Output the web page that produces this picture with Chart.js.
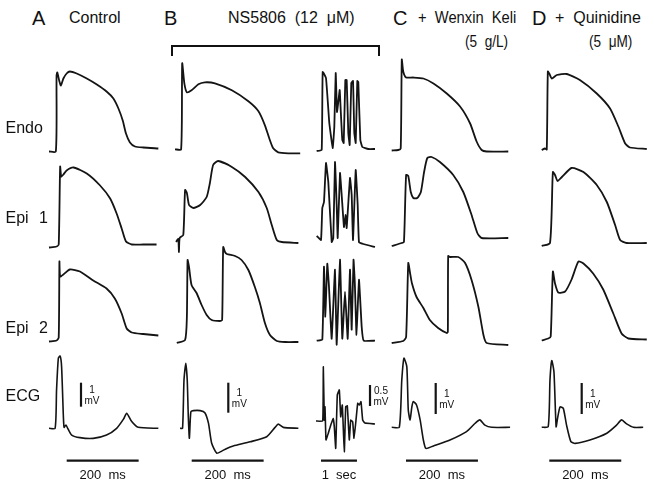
<!DOCTYPE html>
<html><head><meta charset="utf-8">
<script src="https://cdn.jsdelivr.net/npm/chart.js@4.4.1/dist/chart.umd.min.js"></script>
<style>
html,body{margin:0;padding:0;background:#fff;}
#fig{position:relative;width:654px;height:484px;overflow:hidden;background:#fff;font-family:"Liberation Sans",Arial,Helvetica,sans-serif;color:#111;}
.t{position:absolute;line-height:1;white-space:pre;transform-origin:0 0;}
.c{position:absolute;}
.br{position:absolute;border:2px solid #111;border-bottom:none;}
</style></head><body><div id="fig"></div>
<script>
// ---------- DATA (time in ms, membrane potential in mV above rest, ECG in mV) ----------
const columnLetters = ['A','B','C','D'];
const columnTitles = ['Control','NS5806  (12  \u03bcM)','+  Wenxin  Keli','+  Quinidine'];
const columnSubtitles = ['','','(5  g/L)','(5  \u03bcM)'];
const rowLabels = ['Endo','Epi 1','Epi 2','ECG'];
const scaleBarMs = [200,200,1000,200,200];
const scaleBarMV = [1,1,0.5,1,1];
const scaleBarTimeText = ['200  ms','200  ms','1  sec','200  ms','200  ms'];
const scaleBarMVText = ['1','1','0.5','1','1'];

// Column A (Control)
const endoA_t = [0,19,21,23,29,33,40,49,58,77,105,133,160,179,193,205,214,225,239,262,304];
const endoA_v = [0,0,76,79,70,66,73,78,80,78,73,67,60,53,43,31,18,9,5,4,3];
const epi1A_t = [0,21,27,31,34,40,49,68,105,142,170,188,202,214,230,262,299];
const epi1A_v = [0,1,3,81,71,73,77,80,74,62,49,34,19,6,3,3,3];
const epi2A_t = [0,21,27,29,31,40,58,86,123,160,183,202,216,230,262,304];
const epi2A_v = [0,1,4,80,65,67,72,70,61,53,43,28,13,9,7.5,6];
const ecgA_t = [0,17,21,26,31,35,40,42,47,52,63,86,123,160,188,207,216,230,248,304];
const ecgA_v = [0,0,1.6,2.92,3.01,2.57,0.48,0.04,0.14,0,-0.28,-0.39,-0.42,-0.28,0,0.38,0.63,0.28,0.04,0];

// Column B (NS5806, single beat)
const endoB_t = [0,17,20,26,33,46,65,83,111,158,204,232,250,262,273,287,315,348];
const endoB_v = [0,0,86,66,57,59,65,67,66,59,48,38,24,11,1,-3,-4,-4];
const epi1B_t = [3,9,11,13,23,28,33,39,51,70,88,97,106,120,158,195,232,255,269,283,297,343];
const epi1B_v = [-1,2,-11,3,6,51,48,36,33,36,44,58,76,80,74,64,49,33,16,1,-1,-2];
const epi2B_t = [5,28,33,35,39,46,60,74,88,102,125,131,134,139,144,167,185,204,222,236,250,264,283,306,343];
const epi2B_v = [-1,2,25,82,75,57,49,37,27,22,21,22,95,90,88,86,82,72,55,39,19,7,1,0,0];
const ecgB_t = [14,21,25,30,34,37,40,44,51,70,83,93,102,116,130,144,162,209,255,278,287,301,343];
const ecgB_v = [0,0,1.61,2.17,1.61,0.39,-0.33,0.55,0.59,0.59,0.52,0.17,-0.5,-0.83,-0.76,-0.67,-0.59,-0.45,-0.28,0.03,0.14,0.03,0];

// Column B (NS5806, 1 sec run)
const endoB2_t = [19,158,186,278,370,464,509,548,584,620,659,687,731,770,815,853,898,937,981,1029,1065,1104,1148,1176,1232,1287,1454,1640];
const endoB2_v = [0,1,79,73,28,3,24,78,39,49,61,41,11,8,71,71,18,6,68,70,18,8,70,69,11,4,2,2];
const epi1B2_t = [19,139,175,222,278,342,436,481,528,575,603,667,714,778,826,853,945,992,1029,1104,1159,1195,1315,1640];
const epi1B2_v = [4,0,32,38,77,58,-2,2,78,35,2,67,45,13,25,12,62,45,0,70,35,-2,-4,-7];
const epi2B2_t = [19,175,222,259,314,361,436,528,575,667,731,806,881,945,992,1043,1078,1126,1195,1270,1326,1640];
const epi2B2_v = [0,1,74,24,77,54,2,71,-4,81,2,49,2,71,11,81,59,6,61,14,0,0];
const ecgB2_t = [0,186,203,231,250,278,342,409,481,509,548,592,648,687,731,787,826,870,926,965,1020,1056,1112,1159,1204,1251,1298,1362,1640];
const ecgB2_v = [0,0,1.29,0.02,0.34,-0.45,-0.29,-0.1,0.06,-0.14,-0.65,0.62,0.74,0.1,0.38,-0.73,0.34,0.36,-0.45,0.02,-0.02,-0.41,0.02,0.42,0.38,0.46,0.02,-0.05,-0.07];

// Column C (+ Wenxin Keli)
const endoC_t = [2,20,27,30,34,42,62,90,118,155,192,220,238,252,266,326];
const endoC_v = [0,0.5,2,91,79,73,73,72,67,57,44,27,9,0.5,-1,-1];
const epi1C_t = [2,30,36,42,48,55,62,73,83,92,101,113,136,173,201,224,240,252,326];
const epi1C_v = [-1,2,3,70,69,53,47,47,53,73,87,88,83,70,53,30,12,7,7];
const epi2C_t = [2,34,42,48,53,58,71,90,108,131,155,158,159,164,187,206,224,243,257,266,326];
const epi2C_v = [-1,1,5,79,69,59,45,34,22,14,9,10,86,85,85,79,62,35,7,-1,-3];
const ecgC_t = [2,23,30,36,44,48,53,58,62,71,81,90,97,118,164,210,234,247,261,280,331];
const ecgC_v = [0,0,1.53,2.23,1.95,0.56,0.24,0.66,0.83,0.72,0.24,-0.41,-0.68,-0.6,-0.41,-0.14,0.13,0.24,0.07,0,0];

// Column D (+ Quinidine)
const endoD_t = [2,11,16,19,23,30,44,71,108,155,192,215,234,247,294];
const endoD_v = [-0.5,1,0,78,76,71,74.5,75.5,69.5,56,41,23,6,2,0.5];
const epi1D_t = [2,25,33,39,46,58,85,118,155,183,206,220,238,294];
const epi1D_v = [-1,2,73,70,64,68,77,73,60,43,20,5,2,2];
const epi2D_t = [2,20,27,33,39,48,67,85,104,118,145,173,201,224,243,294];
const epi2D_v = [0,2,4,69,57,48,49,61,79,77,67,51,27,7,2,1];
const ecgD_t = [2,20,25,30,36,42,46,53,62,71,83,95,136,183,210,224,238,257,284];
const ecgD_v = [0,0.02,1.53,2.15,1.79,0.02,0.29,0.66,0.61,0.07,-0.46,-0.52,-0.41,-0.19,0.07,0.24,0.11,0,0];

// ---------- LAYOUT (page pixels) ----------
const COL = {
  A:{x0:49,kx:2.78,l:40,r:165},
  B:{x0:175,kx:2.78,l:168,r:306},
  B2:{x0:316,kx:27.8,l:308,r:382},
  C:{x0:391,kx:2.78,l:384,r:516},
  D:{x0:541,kx:2.78,l:534,r:652}
};
const ROW = {endo:{t:50,b:162},epi1:{t:150,b:258},epi2:{t:238,b:352},ecg:{t:345,b:470}};
const BASE = {
  A:{endo:151.5,epi1:247.5,epi2:341.5,ecg:428.3},
  B:{endo:149.3,epi1:241,epi2:342,ecg:428.3},
  B2:{endo:151,epi1:240,epi2:340.7,ecg:421},
  C:{endo:150.5,epi1:245,epi2:342,ecg:427.3},
  D:{endo:149.5,epi1:245,epi2:340.5,ecg:427.3}
};
const ECG_PX_PER_MV = {A:24,B:30,B2:42,C:31,D:31};
const BARS = {
  A:{i:0,vx:81,vy:406.7,hx:66.7,hy:460.7},
  B:{i:1,vx:228.3,vy:412.7,hx:191.7,hy:460.7},
  B2:{i:2,vx:370,vy:406,hx:321,hy:460.7},
  C:{i:3,vx:435.7,vy:414,hx:406,hy:460.7},
  D:{i:4,vx:581.7,vy:414,hx:549.3,hy:460.7}
};
const SERIES = {
  A:{endo:[endoA_t,endoA_v],epi1:[epi1A_t,epi1A_v],epi2:[epi2A_t,epi2A_v],ecg:[ecgA_t,ecgA_v]},
  B:{endo:[endoB_t,endoB_v],epi1:[epi1B_t,epi1B_v],epi2:[epi2B_t,epi2B_v],ecg:[ecgB_t,ecgB_v]},
  B2:{endo:[endoB2_t,endoB2_v],epi1:[epi1B2_t,epi1B2_v],epi2:[epi2B2_t,epi2B2_v],ecg:[ecgB2_t,ecgB2_v]},
  C:{endo:[endoC_t,endoC_v],epi1:[epi1C_t,epi1C_v],epi2:[epi2C_t,epi2C_v],ecg:[ecgC_t,ecgC_v]},
  D:{endo:[endoD_t,endoD_v],epi1:[epi1D_t,epi1D_v],epi2:[epi2D_t,epi2D_v],ecg:[ecgD_t,ecgD_v]}
};

const fig = document.getElementById('fig');
const INK = '#141414';

function text(str, left, baseline, fs, extra){
  const d = document.createElement('div');
  d.className = 't';
  d.textContent = str;
  d.style.fontSize = fs + 'px';
  d.style.left = left + 'px';
  d.style.top = (baseline - 0.8465*fs) + 'px';
  if (extra) Object.assign(d.style, extra);
  fig.appendChild(d);
  return d;
}

function makeChart(colKey, rowKey){
  const c = COL[colKey], r = ROW[rowKey];
  const yb = BASE[colKey][rowKey];
  const ky = rowKey === 'ecg' ? 1/ECG_PX_PER_MV[colKey] : 1;
  const w = c.r - c.l, h = r.b - r.t;
  const holder = document.createElement('div');
  holder.className = 'c';
  Object.assign(holder.style,{left:c.l+'px',top:r.t+'px',width:w+'px',height:h+'px'});
  const cv = document.createElement('canvas');
  cv.width = w; cv.height = h; cv.style.width = w+'px'; cv.style.height = h+'px';
  holder.appendChild(cv); fig.appendChild(holder);
  const toT = px => (px - c.x0)*c.kx;
  const toV = py => (yb - py)*ky;
  const [ts, vs] = SERIES[colKey][rowKey];
  const datasets = [{
    data: ts.map((t,i)=>({x:t,y:vs[i]})),
    showLine:true, borderColor:INK, borderWidth: rowKey==='ecg'?1.6:1.8,
    pointRadius:0, tension: colKey==='B2'?0.1:0.2, fill:false
  }];
  if (rowKey === 'ecg'){
    const b = BARS[colKey];
    const vx = toT(b.vx), vy0 = toV(b.vy);
    datasets.push({data:[{x:vx,y:vy0},{x:vx,y:vy0+scaleBarMV[b.i]}],showLine:true,borderColor:INK,borderWidth:2.2,pointRadius:0,tension:0,borderCapStyle:'butt'});
    const hx0 = toT(b.hx), hy = toV(b.hy);
    datasets.push({data:[{x:hx0,y:hy},{x:hx0+scaleBarMs[b.i],y:hy}],showLine:true,borderColor:INK,borderWidth:2.2,pointRadius:0,tension:0,borderCapStyle:'butt'});
    const pxLen = scaleBarMV[b.i]/ky;
    const lab = document.createElement('div');
    lab.className = 't';
    lab.style.fontSize = '10px'; lab.style.lineHeight = '11px'; lab.style.textAlign = 'center';
    lab.textContent = scaleBarMVText[b.i] + '\nmV';
    lab.style.left = (b.vx + 3.5) + 'px';
    lab.style.top = (b.vy - pxLen/2 - 11) + 'px';
    fig.appendChild(lab);
    const hxEnd = b.hx + scaleBarMs[b.i]/c.kx;
    text(scaleBarTimeText[b.i], (b.hx+hxEnd)/2, 479.3, 13, {transform:'translateX(-50%)'});
  }
  new Chart(cv,{
    type:'scatter',
    data:{datasets},
    options:{
      responsive:false, animation:false, events:[],
      plugins:{legend:{display:false},tooltip:{enabled:false}},
      layout:{padding:0},
      scales:{
        x:{type:'linear',display:false,min:toT(c.l),max:toT(c.r)},
        y:{type:'linear',display:false,min:toV(r.b),max:toV(r.t)}
      }
    }
  });
}

['A','B','B2','C','D'].forEach(ck=>['endo','epi1','epi2','ecg'].forEach(rk=>makeChart(ck,rk)));

// titles
const letterX = [32,164,393,532];
const titleX = [69,228,418,555];
const titleScale = [1,1,0.92,1];
columnLetters.forEach((L,i)=>text(L, letterX[i], 25, 20));
columnTitles.forEach((T,i)=>text(T, titleX[i], 24, 16, {transform:'scaleX('+titleScale[i]+')'}));
text(columnSubtitles[2], 465, 47.5, 16, {transform:'scaleX(0.85)'});
text(columnSubtitles[3], 589, 47.5, 16, {transform:'scaleX(0.85)'});

// row labels
const rowBase = [133.3,223.3,333.3,401.7];
rowLabels.forEach((R,i)=>text(R, 5.5, rowBase[i], 16, {wordSpacing:'6px'}));

// bracket over NS5806 panel
const br = document.createElement('div');
br.className = 'br';
Object.assign(br.style,{left:'171px',top:'45px',width:'205px',height:'9px'});
fig.appendChild(br);
</script></body></html>
